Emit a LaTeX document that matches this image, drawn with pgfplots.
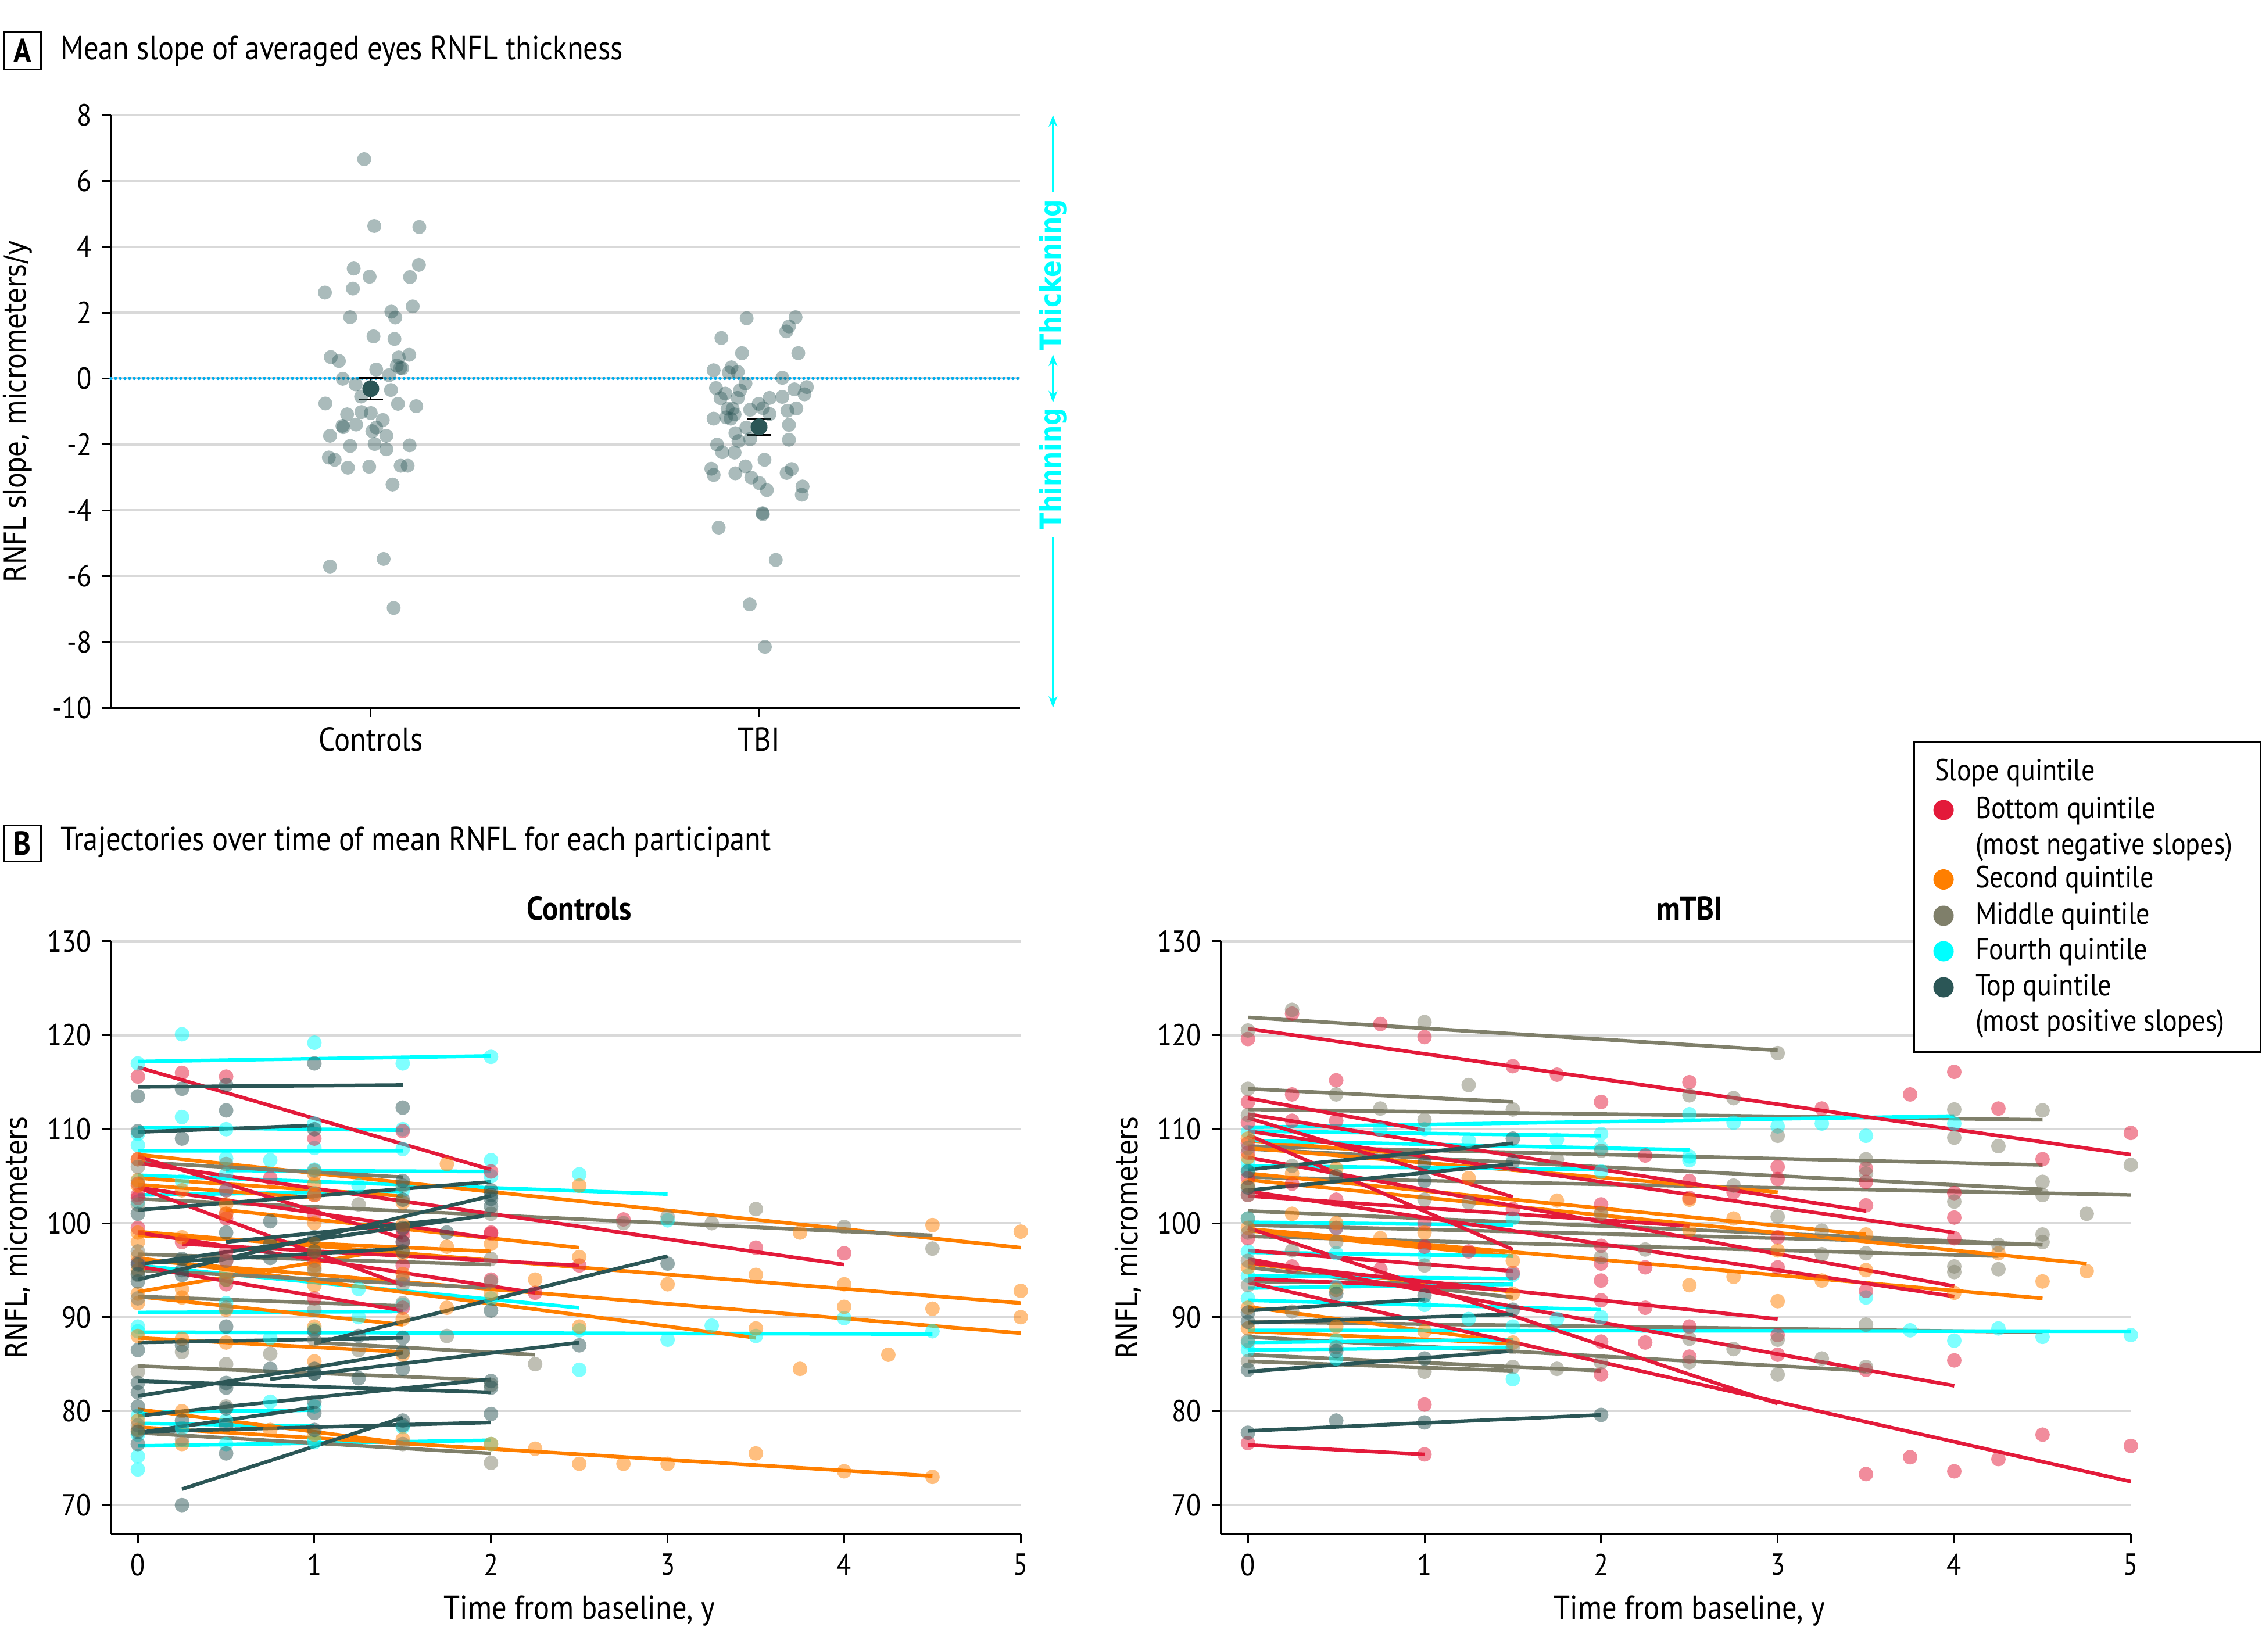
\documentclass[border=0pt]{standalone}
\usepackage{fontspec}
\setmainfont{PT Sans}[FakeStretch=0.88]
\newfontfamily\labfont{DejaVu Sans}[FakeStretch=0.85]
\usepackage{pgfplots}
\pgfplotsset{compat=1.18}
\usetikzlibrary{arrows.meta}
\definecolor{qred}{HTML}{E31A3A}
\definecolor{qorange}{HTML}{FF7F00}
\definecolor{qmid}{HTML}{7F7F6A}
\definecolor{qfourth}{HTML}{00FFFF}
\definecolor{qtop}{HTML}{2B5656}
\definecolor{gridgray}{HTML}{D9D9D9}
\pgfplotsset{
  base/.style={
    scale only axis,
    axis x line*=bottom, axis y line*=left,
    axis line style={line width=0.6pt, black},
    every tick/.style={line width=0.6pt, black},
    tick align=outside, major tick length=3.2pt,
    ymajorgrids, major grid style={line width=0.8pt, gridgray},
    /pgf/number format/assume math mode=true,
    tick label style={font=\fontsize{10.5}{12}\selectfont},
    clip=false,
  },
  pts/.style={only marks, mark=*, mark size=2.5pt, mark options={draw opacity=0, fill=#1, fill opacity=0.5}},
  trj/.style={color=#1, line width=1.25pt, unbounded coords=jump, no marks},
  panelB/.style={base, width=313.1pt, height=204.1pt, xmin=-0.1526, xmax=5, ymin=66.9, ymax=130,
    xtick={0,1,2,3,4,5}, ytick={70,80,90,100,110,120,130}},
}
\begin{document}
\begin{tikzpicture}[x=1pt,y=1pt]
\path[use as bounding box] (0,0) rectangle (778.4,-568.4);

% ---------- Panel A ----------
\draw[line width=0.6pt] (1.4,-11) rectangle (14,-23.8);
\node[font=\bfseries\fontsize{11.5}{13}\selectfont] at (7.7,-17.4) {A};
\node[anchor=west, font=\fontsize{11.5}{13}\selectfont, inner sep=0] at (20.6,-17.7) {Mean slope of averaged eyes RNFL thickness};
\node[rotate=90, font=\labfont\fontsize{10.3}{12}\selectfont] at (6,-141.6) {RNFL slope, micrometers/y};

\begin{axis}[base, at={(38.2pt,-243.6pt)}, anchor=south west, width=312.8pt, height=204pt,
  xmin=0.331, xmax=2.672, ymin=-10, ymax=8, ytick={-10,-8,-6,-4,-2,0,2,4,6,8},
  xtick={1,2}, xticklabels={Controls,TBI},
  xticklabel style={font=\fontsize{11.5}{13}\selectfont}]
\addplot[cyan, line width=1.1pt, dash pattern=on 0pt off 1.6pt, line cap=round] coordinates {(0.331,0) (2.672,0)};
\addplot[only marks, mark=*, mark size=2.4pt, mark options={draw opacity=0, fill=qtop, fill opacity=0.4}] coordinates {
(0.983,6.66) (1.009,4.63) (1.125,4.60) (0.956,3.34) (0.997,3.09) (1.124,3.45) (1.101,3.08) (0.882,2.61)
(0.954,2.73) (1.108,2.19) (0.947,1.86) (1.053,2.03) (1.063,1.85) (1.007,1.28) (1.061,1.20) (0.897,0.65)
(0.918,0.53) (1.072,0.64) (1.099,0.72) (1.014,0.27) (1.067,0.39) (1.081,0.31) (1.076,0.32) (1.047,0.10)
(0.928,-0.01) (0.961,-0.18) (1.052,-0.35) (0.975,-0.55) (0.883,-0.76) (1.070,-0.77) (1.117,-0.84)
(0.939,-1.09) (0.976,-1.02) (1.000,-1.05) (1.031,-1.26) (0.927,-1.44) (0.929,-1.48) (0.962,-1.40)
(1.014,-1.49) (1.004,-1.60) (0.895,-1.74) (1.040,-1.74) (1.010,-1.99) (0.947,-2.05) (1.040,-2.15)
(1.100,-2.03) (0.892,-2.40) (0.907,-2.47) (0.941,-2.71) (0.996,-2.68) (1.077,-2.65) (1.095,-2.65)
(1.056,-3.22) (0.895,-5.71) (1.033,-5.48) (1.059,-6.97)
(1.968,1.83) (2.094,1.86) (2.077,1.58) (2.070,1.43) (1.903,1.23) (2.101,0.77) (1.956,0.77) (1.883,0.25)
(1.929,0.34) (1.922,0.18) (1.945,0.20) (2.060,0.02) (1.889,-0.29) (1.965,-0.15) (1.913,-0.46) (1.951,-0.36)
(1.901,-0.60) (1.945,-0.59) (2.091,-0.33) (2.123,-0.26) (2.117,-0.48) (2.027,-0.59) (2.060,-0.56)
(1.999,-0.77) (1.977,-0.95) (2.010,-0.90) (2.027,-1.08) (2.073,-0.98) (2.096,-0.91) (1.919,-0.92)
(1.932,-0.92) (1.883,-1.22) (1.915,-1.18) (1.927,-1.22) (1.937,-1.09) (1.967,-1.49) (2.077,-1.41)
(1.939,-1.66) (1.947,-1.90) (1.977,-1.84) (2.077,-1.86) (1.892,-2.01) (1.905,-2.24) (1.937,-2.25)
(2.014,-2.47) (1.965,-2.67) (1.877,-2.74) (1.883,-2.93) (1.939,-2.88) (2.071,-2.87) (2.084,-2.75)
(1.980,-3.01) (2.001,-3.18) (2.020,-3.39) (2.112,-3.28) (2.110,-3.53) (2.009,-4.09) (2.010,-4.12)
(1.896,-4.53) (2.043,-5.51) (1.976,-6.86) (2.015,-8.15)};
\addplot[only marks, mark=*, mark size=2.7pt, mark options={draw=qtop, fill=qtop},
  error bars/.cd, y dir=both, y explicit,
  error bar style={line width=0.6pt, black},
  error mark options={line width=0.6pt, black, mark size=4.2pt, rotate=90}]
  coordinates {(1,-0.31) +- (0,0.32) (2,-1.47) +- (0,0.24)};
\draw[qfourth, line width=0.6pt, -{Stealth[length=4pt,width=3pt]}] (axis cs:2.757,5.65) -- (axis cs:2.757,8);
\draw[qfourth, line width=0.6pt, {Stealth[length=4pt,width=3pt]}-{Stealth[length=4pt,width=3pt]}] (axis cs:2.757,0.73) -- (axis cs:2.757,-0.73);
\draw[qfourth, line width=0.6pt, -{Stealth[length=4pt,width=3pt]}] (axis cs:2.757,-4.83) -- (axis cs:2.757,-10);
\node[rotate=90, text=qfourth, font=\labfont\bfseries\fontsize{10}{11}\selectfont] at (axis cs:2.757,3.14) {Thickening};
\node[rotate=90, text=qfourth, font=\labfont\bfseries\fontsize{10}{11}\selectfont] at (axis cs:2.757,-2.74) {Thinning};
\end{axis}

% ---------- Panel B header ----------
\draw[line width=0.6pt] (1.4,-284) rectangle (14,-296.4);
\node[font=\bfseries\fontsize{11.5}{13}\selectfont] at (7.7,-290.2) {B};
\node[anchor=west, font=\fontsize{11.5}{13}\selectfont, inner sep=0] at (20.6,-289.9) {Trajectories over time of mean RNFL for each participant};
\node[font=\bfseries\fontsize{11.5}{13}\selectfont] at (199.4,-312.7) {Controls};
\node[font=\bfseries\fontsize{11.5}{13}\selectfont] at (581.4,-312.7) {mTBI};
\node[rotate=90, font=\labfont\fontsize{10.3}{12}\selectfont] at (6,-426) {RNFL, micrometers};
\node[rotate=90, font=\labfont\fontsize{10.3}{12}\selectfont] at (388.2,-426) {RNFL, micrometers};
\node[font=\fontsize{11.5}{13}\selectfont] at (199.4,-554.4) {Time from baseline, y};
\node[font=\fontsize{11.5}{13}\selectfont] at (581.4,-554.4) {Time from baseline, y};

% ---------- Panel B left: Controls ----------
\begin{axis}[panelB, at={(38.16pt,-528.06pt)}, anchor=south west]
\addplot[pts=qfourth] coordinates {
(0,117.0) (0.25,120.1) (1,119.2) (1.5,117.0) (2,117.7)
(0,109.5) (0.25,111.3) (0.5,110.0) (1,110.6) (1.5,110.0)
(0,108.3) (0.5,106.9) (1,108.0) (1.5,107.9)
(0.5,105.2) (0.75,106.7) (1,105.7) (2,106.7)
(0,104.5) (0.25,104.5) (1.25,104.0) (2,105.0) (2.5,105.2) (3,100.3)
(0,102.3) (0.5,103.5) (1,103.2) (1.5,103.5)
(0,95.8) (0.5,94.0) (1.25,93.0) (1.5,94.0) (2,92.0) (2.5,84.4)
(0,89.0) (0.5,91.5) (1.25,90.0) (1.5,91.3)
(0,88.5) (0.75,87.8) (1,88.7) (2.5,88.6) (3,87.6) (3.25,89.1) (3.5,88.0) (4,89.9) (4.5,88.5)
(0,79.5) (0.75,81.0) (1,80.5)
(0,77.5) (0.25,78.2) (0.5,79.0) (1,77.0)
(0,75.2) (0,73.8) (0.5,76.5) (1,76.7) (1.5,78.3) (2,76.5)};
\addplot[pts=qred] coordinates {
(0,115.6) (0.25,116.0) (0.5,115.6) (1,109.0) (1.5,109.8) (2,105.5)
(0,106.8) (0.5,103.5) (0.75,104.8) (1,100.9) (1.5,98.0)
(0,104.2) (0.5,101.0) (1,103.0) (1.5,99.3) (2,99.0) (2.75,100.4) (3.5,97.4) (4,96.8)
(0,103.0) (0.5,100.5) (1.5,98.7) (2,98.9)
(0,102.7) (0.5,97.0) (1,96.5) (1.5,94.0)
(0.25,98.0) (0.5,96.0) (1.5,95.5) (2.5,95.5)
(0,99.5) (1,96.0) (2,94.0) (2.25,92.6)
(0,95.8) (0.5,93.5) (1,92.0) (1.5,91.0)};
\addplot[pts=qorange] coordinates {
(0,106.8) (1,105.2) (1.75,106.3) (2.5,104.0) (3.75,99.0) (4.5,99.8) (5,99.1)
(0,104.0) (0.25,103.5) (1,104.2) (1.5,102.2)
(0,104.6) (0.5,102.0) (1,103.0)
(0.5,101.0) (1,100.0) (1.5,99.8) (1.75,97.5) (2.5,96.4)
(0,99.0) (0.25,98.5) (1,97.0) (2,97.8)
(0,98.0) (1,97.8) (2.25,94.0) (3,93.5) (3.5,94.5) (4,93.5) (5,92.8)
(0,95.0) (1,95.2) (1.5,94.6) (2,92.5) (4,91.1) (4.5,90.9) (5,90.0) (4.25,86.0)
(0,96.5) (0.5,94.8) (1,93.4) (1.75,91.0) (2.5,89.0) (3.5,88.8) (3.75,84.5)
(0,92.5) (0.25,93.0) (0.5,94.0) (1,95.5) (1.5,96.8)
(0,91.5) (0.25,92.1) (0.5,90.8) (1,89.0) (1.5,89.8)
(0,88.0) (0.25,87.7) (0.5,87.3) (1,85.3) (1.5,86.0)
(0,79.0) (0.25,80.0) (0.75,78.0) (1,77.5) (1.5,77.0)
(0,78.0) (0.25,76.5) (2,76.5) (2.25,76.0) (2.5,74.4) (2.75,74.4) (3,74.4) (3.5,75.5) (4,73.6) (4.5,73.0)};
\addplot[pts=qmid] coordinates {
(0,106.0) (0.5,106.3) (1,105.6) (1.5,104.0)
(0,102.0) (1.25,102.0) (2,101.0) (2.75,100.0) (3,100.7) (3.25,100.0) (3.5,101.5) (4,99.6) (4.5,97.3)
(0,97.0) (0.5,96.0) (1,95.0) (2,96.2)
(0,94.5) (0.5,94.0) (1.5,93.5) (2,93.8)
(0,92.0) (0.5,91.0) (1,90.8) (1.5,91.5)
(1,87.6) (1.25,86.5) (1.75,88.0) (2.25,85.0)
(0,84.2) (0.25,86.3) (0.5,85.0) (0.75,86.1) (2,82.8)
(0,78.5) (0.25,77.0) (0.5,80.5) (1.5,76.5) (2,74.5)};
\addplot[pts=qtop] coordinates {
(0,113.5) (0.25,114.3) (0.5,114.7) (1,117.0) (1.5,112.3)
(0,109.8) (0.25,109.0) (0.5,112.0) (1,110.0)
(0,101.0) (0.75,100.2) (1.5,104.5) (2,103.5) (1.5,102.5)
(0.5,99.0) (1,98.5) (1.75,99.0) (1.5,98.0)
(0,95.6) (0.25,96.2) (0.75,96.3) (1.5,97.0)
(0,94.6) (0.25,95.0) (1,97.0) (2,101.8) (2,102.6)
(0,93.8) (0.25,94.5) (0.75,97.8) (1.5,99.5) (2,103.0)
(1,88.5) (1.25,88.0) (2,90.7) (3,95.7)
(0,86.5) (0.25,87.0) (0.5,89.0) (1.5,87.8)
(0,83.0) (0.5,83.0) (1,84.5) (2,82.5)
(0,82.0) (0.5,82.5) (1,84.0) (1.5,86.3)
(0.75,84.5) (1,84.0) (1.25,83.5) (1.5,84.5) (2.5,87.0)
(0,80.5) (0.5,80.3) (1,81.0) (2,83.2)
(0,77.8) (0.25,79.0) (0.5,78.5) (1,79.8)
(0,76.5) (0.5,75.5) (1.5,78.5) (2,79.7)
(0.25,70.0) (1,78.0) (1.5,79.0)};
\addplot[trj=qfourth] coordinates {
(0,117.2) (2,117.8) (nan,nan) (0,110.2) (1.5,109.9) (nan,nan) (0,107.7) (1.5,107.7) (nan,nan)
(0.5,105.6) (2,105.5) (nan,nan) (0,105.1) (3,103.1) (nan,nan) (0,103.0) (1.5,103.4) (nan,nan)
(0,95.5) (2.5,91.0) (nan,nan) (0,90.5) (1.5,90.6) (nan,nan) (0,88.4) (4.5,88.2) (nan,nan)
(0,79.9) (1,80.1) (nan,nan) (0,78.7) (1,78.4) (nan,nan) (0,76.3) (2,76.9)};
\addplot[trj=qorange] coordinates {
(0,107.3) (5,97.4) (nan,nan) (0,104.8) (1.5,102.9) (nan,nan) (0,104.1) (1,102.7) (nan,nan)
(0.5,101.4) (2.5,97.4) (nan,nan) (0,98.7) (2,97.0) (nan,nan) (0,99.1) (5,91.5) (nan,nan)
(0,96.1) (5,88.3) (nan,nan) (0,96.3) (3.5,87.8) (nan,nan) (0,92.7) (1.5,97.4) (nan,nan)
(0,92.2) (1.5,89.2) (nan,nan) (0,87.8) (1.5,86.3) (nan,nan) (0,80.2) (1.5,76.6) (nan,nan)
(0,78.3) (4.5,73.1)};
\addplot[trj=qmid] coordinates {
(0,106.5) (1.5,104.9) (nan,nan) (0,102.6) (4.5,98.7) (nan,nan) (0,96.7) (2,95.6) (nan,nan)
(0,95.0) (2,93.1) (nan,nan) (0,92.2) (1.5,91.2) (nan,nan) (1,87.3) (2.25,86.0) (nan,nan)
(0,84.8) (2,83.3) (nan,nan) (0,77.7) (2,75.5)};
\addplot[trj=qred] coordinates {
(0,116.6) (2,105.7) (nan,nan) (0,107.1) (1.5,98.4) (nan,nan) (0,106.4) (4,95.6) (nan,nan)
(0,103.8) (2,98.4) (nan,nan) (0,103.8) (1.5,93.4) (nan,nan) (0.25,97.8) (2.5,95.5) (nan,nan)
(0,99.0) (2.25,92.6) (nan,nan) (0,95.4) (1.5,90.7)};
\addplot[trj=qtop] coordinates {
(0,114.5) (1.5,114.7) (nan,nan) (0,109.7) (1,110.4) (nan,nan) (0,101.4) (2,104.4) (nan,nan)
(0.5,98.0) (1.75,100.4) (nan,nan) (0,95.7) (1.5,97.3) (nan,nan) (0,95.6) (2,100.9) (nan,nan)
(0,94.0) (2,102.9) (nan,nan) (1,87.2) (3,96.5) (nan,nan) (0,87.3) (1.5,87.8) (nan,nan)
(0,83.2) (2,82.0) (nan,nan) (0,81.6) (1.5,86.2) (nan,nan) (0.75,83.4) (2.5,87.3) (nan,nan)
(0,79.5) (2,83.4) (nan,nan) (0,77.7) (1,80.4) (nan,nan) (0,77.8) (2,78.8) (nan,nan)
(0.25,71.7) (1.5,79.3)};
\end{axis}

% ---------- Panel B right: mTBI ----------
\begin{axis}[panelB, at={(420.16pt,-528.06pt)}, anchor=south west]
\addplot[pts=qfourth] coordinates {
(0.75,110.0) (1,110.0) (1.25,108.8) (2,109.5) (0,109.7) (1.75,108.9) (2,108.0) (2.5,107.1) (0,106.5) (1.5,100.5)
(2.5,111.6) (2.75,110.7) (3,110.3) (3.25,110.6) (3.5,109.3) (4,110.6) (2.5,106.7) (3.5,92.1) (3.75,88.6)
(4,87.5) (4.25,88.8) (4.5,87.9) (5,88.1)
(0,97.0) (0.5,96.8) (1,96.6) (1.5,94.5) (0,94.4) (0.5,93.2) (1,91.3) (1.25,89.8) (1.75,89.8) (1.5,89.0)
(2,90.0) (0,87.3) (0.5,87.5) (0,86.5) (0.5,85.6) (1.5,83.4) (0,92.0) (0,100.5) (0.5,99.5) (0,105.7) (2,105.5)};
\addplot[pts=qred] coordinates {
(0,119.6) (0.25,122.3) (0.75,121.2) (1,119.8) (1.5,116.7) (1.75,115.8) (2.5,115.0) (3.75,113.7) (4,116.1)
(4.25,112.2) (5,109.6) (3.25,112.2) (2,112.9)
(0,112.9) (0.25,113.7) (0.5,115.2) (0.25,110.9) (0.5,110.9) (0,110.7)
(4.5,106.8) (3,106.0) (3,104.7) (2.5,104.5) (3.5,105.8) (3.5,104.4) (3.5,101.9) (4,103.2) (4,100.6)
(2.5,102.7) (2.75,103.3) (4,98.4) (3,98.5) (3,95.3) (3.5,92.8)
(2.25,107.2) (0,104.8) (0.25,104.2) (0.5,102.5) (1.5,101.5) (2,102.0)
(0,98.4) (0.25,95.4) (0.75,95.1) (1.5,94.7) (2,91.8) (2.25,91.0) (2,93.9) (2,95.7) (2.25,95.3) (2,97.6)
(2,87.4) (2.25,87.3) (2,83.9) (1,80.7) (0,76.6) (1,75.4)
(2.5,89.0) (3,88.1) (3,86.0) (2.5,85.8) (4,85.4) (3.5,84.4) (4.5,77.5) (3.75,75.1) (3.5,73.3) (4,73.6)
(4.25,74.9) (5,76.3)
(0,108.5) (0,107.5) (0,103.0) (0.5,99.5) (1,100.0) (1.25,97.0) (1,97.5)};
\addplot[pts=qorange] coordinates {
(0.5,105.8) (1.25,104.8) (0.25,105.3) (0,104.0) (1.75,102.4) (2,101.1) (0.75,98.4) (0,95.3) (0.5,92.9)
(0.5,89.0) (1,88.5)
(2.5,102.5) (2.5,99.3) (2.75,100.5) (3,97.1) (3.5,98.8) (3.5,95.0) (2.5,93.4) (2.75,94.3) (3.25,93.9)
(3,91.7) (4,92.6) (4.25,96.8) (4.5,93.8) (4.75,94.9)
(0,109.0) (0,107.0) (0.25,101.0) (0.5,100.0) (1,99.0) (1.5,96.0) (0,99.5) (1.5,92.5) (0,91.0) (0,88.8) (1.5,87.3)};
\addplot[pts=qmid] coordinates {
(0.25,122.7) (1,121.4) (0,120.5) (3,118.1)
(0,114.3) (0.5,113.7) (0.75,112.2) (1,111.0) (1.25,114.7) (1.5,112.1) (2.5,113.6) (2.75,113.3) (3,109.3)
(4,112.1) (4,109.1) (4.25,108.2) (4.5,112.0)
(2,107.7) (1.75,106.8) (3.5,106.8) (3.5,105.3) (2.75,104.0) (4,102.3) (4.5,104.4) (4.5,103.0) (4.75,101.0) (5,106.2)
(0.25,106.1) (0,103.0) (1,102.5) (1.25,102.2) (2,101.0) (3,100.7) (4.5,98.8) (4.5,98.0) (3.25,99.2)
(4.25,97.7) (4.25,95.1) (4,95.4) (3.25,96.7) (3.5,96.8) (4,94.8)
(0.25,97.1) (0,93.4) (0.25,90.6) (2,96.4) (2.25,97.2) (0,87.5) (0.5,86.8) (1.5,86.8) (0,85.3) (1,84.2)
(1.75,84.5) (1.5,84.7) (2,85.2)
(3.5,89.2) (2.5,87.7) (2.75,86.6) (3,87.6) (3,83.9) (3.25,85.6) (3.5,84.7) (2.5,85.2)
(0,111.5) (0,108.0) (0,100.5) (0,99.0) (0.5,98.0) (1,95.5) (0,96.0)};
\addplot[pts=qtop] coordinates {
(1.5,109.0) (1,106.4) (0,105.5) (0,103.8) (0.5,105.0) (1.5,106.5) (1,104.5)
(0,89.5) (0.5,92.5) (1,92.3) (1.5,90.8) (1,85.6) (0,84.4) (0.5,79.0) (1,78.8) (2,79.6) (0,77.7)
(0.5,86.4) (0,90.5)};
\addplot[trj=qmid] coordinates {
(0,121.9) (3,118.4) (nan,nan) (0,114.3) (1.5,112.9) (nan,nan) (0,112.1) (4.5,111.0) (nan,nan)
(0,108.2) (4.5,106.2) (nan,nan) (0,104.9) (5,103.0) (nan,nan) (0,107.9) (4.5,103.6) (nan,nan)
(0,101.3) (4.5,97.7) (nan,nan) (0,98.6) (4.25,96.5) (nan,nan) (0,99.8) (4.5,97.7) (nan,nan)
(0,95.3) (1.5,92.1) (nan,nan) (0,93.8) (1.5,93.5) (nan,nan) (0,89.5) (4.5,88.4) (nan,nan)
(0,87.9) (3.5,84.3) (nan,nan) (0,86.0) (2,84.3) (nan,nan) (0,85.3) (1.5,84.3)};
\addplot[trj=qorange] coordinates {
(0,108.8) (1,107.2) (nan,nan) (0,108.0) (3,103.3) (nan,nan) (0,105.3) (3.5,98.8) (nan,nan)
(0,99.2) (1.5,96.5) (nan,nan) (0,99.4) (4.5,92.0) (nan,nan) (0,104.6) (4.75,95.7) (nan,nan)
(0,95.7) (1.5,92.7) (nan,nan) (0,91.1) (1.5,87.3) (nan,nan) (0,88.5) (1.5,87.2)};
\addplot[trj=qfourth] coordinates {
(0,110.2) (4,111.4) (nan,nan) (0,109.8) (2,109.3) (nan,nan) (0,108.8) (2.5,107.8) (nan,nan)
(0,106.1) (2,105.7) (nan,nan) (0,100.1) (1.5,99.8) (nan,nan) (0,96.9) (1.5,96.5) (nan,nan)
(0,94.4) (1.5,94.1) (nan,nan) (0,93.1) (1.5,93.5) (nan,nan) (0,91.8) (2,90.8) (nan,nan)
(0,88.6) (5,88.5) (nan,nan) (0,87.3) (1.5,87.6) (nan,nan) (0,86.5) (1.5,86.8)};
\addplot[trj=qred] coordinates {
(0,120.7) (5,107.3) (nan,nan) (0,113.3) (1,109.9) (nan,nan) (0,111.6) (3.5,101.3) (nan,nan)
(0,111.2) (1.5,102.8) (nan,nan) (0,109.8) (4,99.0) (nan,nan) (0,109.4) (1.5,97.2) (nan,nan)
(0,107.0) (4,93.3) (nan,nan) (0,103.4) (4,92.2) (nan,nan) (0,102.9) (2.5,99.7) (nan,nan)
(0,97.1) (1.5,94.9) (nan,nan) (0,95.8) (3,89.8) (nan,nan) (0,94.1) (1.5,92.9) (nan,nan)
(0,96.2) (4,82.7) (nan,nan) (0,93.7) (5,72.5) (nan,nan) (0,99.5) (3,80.8) (nan,nan)
(0,76.4) (1,75.4)};
\addplot[trj=qtop] coordinates {
(0,105.7) (1.5,108.5) (nan,nan) (0,103.5) (1.5,106.3) (nan,nan) (0,90.7) (1,91.9) (nan,nan)
(0,89.4) (1.5,90.3) (nan,nan) (0,84.2) (1.5,86.4) (nan,nan) (0,77.9) (2,79.6)};
\end{axis}

% ---------- Legend ----------
\draw[line width=0.6pt, fill=white] (658.6,-255.2) rectangle (777.9,-362);
\begin{scope}[every node/.style={anchor=west, inner sep=0, font=\fontsize{10.5}{12}\selectfont, text height=1.6ex, text depth=0.45ex}]
\node at (665.6,-265.9) {Slope quintile};
\node at (679.6,-278.8) {Bottom quintile};
\node at (679.6,-291.2) {(most negative slopes)};
\node at (679.6,-302.7) {Second quintile};
\node at (679.6,-315.2) {Middle quintile};
\node at (679.6,-327.4) {Fourth quintile};
\node at (679.6,-339.8) {Top quintile};
\node at (679.6,-352.0) {(most positive slopes)};
\end{scope}
\fill[qred] (668.8,-278.8) circle (3.5);
\fill[qorange] (668.8,-302.7) circle (3.5);
\fill[qmid] (668.8,-315.2) circle (3.5);
\fill[qfourth] (668.8,-327.4) circle (3.5);
\fill[qtop] (668.8,-339.8) circle (3.5);
\end{tikzpicture}
\end{document}
